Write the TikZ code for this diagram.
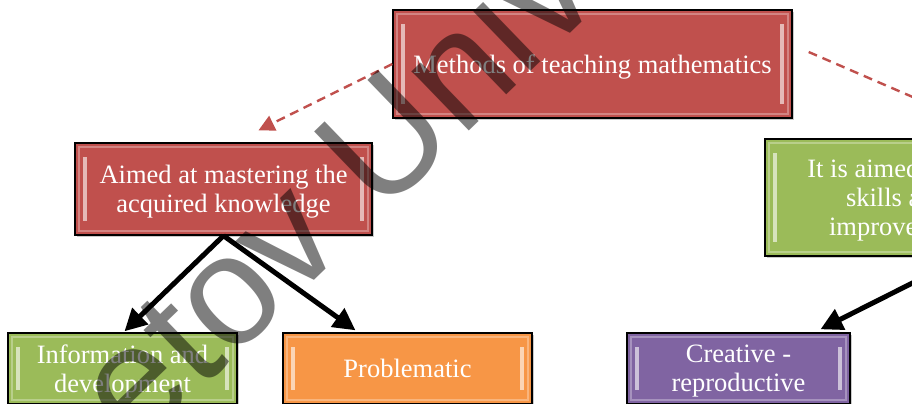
\documentclass[tikz,border=0pt]{standalone}
\usepackage{fontspec}
\setmainfont{Liberation Serif}
\newfontfamily\wmfont{Liberation Sans}
\usetikzlibrary{arrows.meta,shadows,calc}
\definecolor{boxred}{HTML}{C0504D}
\definecolor{boxgreen}{HTML}{9BBB59}
\definecolor{boxorange}{HTML}{F79646}
\definecolor{boxpurple}{HTML}{8064A2}
\tikzset{
        box/.style={rectangle, draw=black, line width=0.7pt, text=white, align=center, inner sep=0pt,
          font=\fontsize{13.25}{14.5}\selectfont, text depth=0pt,
          drop shadow={shadow xshift=1.2pt, shadow yshift=-1.2pt, opacity=0.35, fill=black!60},
          path picture={
            \draw[white, opacity=0.6, line width=1.6pt]
              ([shift={(5pt,-7pt)}]path picture bounding box.north west) -- ([shift={(5pt,7pt)}]path picture bounding box.south west)
              ([shift={(-5pt,-7pt)}]path picture bounding box.north east) -- ([shift={(-5pt,7pt)}]path picture bounding box.south east);
            \draw[white, opacity=0.3, line width=0.8pt]
              ([shift={(2pt,-2pt)}]path picture bounding box.north west) rectangle ([shift={(-2pt,2pt)}]path picture bounding box.south east);
          }},
        redbox/.style={box, fill=boxred},
        greenbox/.style={box, fill=boxgreen},
        orangebox/.style={box, fill=boxorange},
        purplebox/.style={box, fill=boxpurple},
        solidarrow/.style={-{Triangle[length=11pt,width=11pt]}, line width=2.5pt, draw=black},
        dasharrow/.style={-{Triangle[length=8pt,width=8pt]}, dash pattern=on 4.5pt off 3pt, line width=1.2pt, draw=boxred},
        watermark/.style={text=black, opacity=0.5, inner sep=0pt, font=\wmfont\fontsize{78}{78}\selectfont, rotate=44}
          }
\begin{document}
\begin{tikzpicture}[x=0.5pt, y=-0.5pt]
        \useasboundingbox (0,0) rectangle (912,403);
        \clip (0,0) rectangle (912,403);
        % boxes
        \node[redbox, minimum width=199.5pt, minimum height=54pt] (methods) at (592.5,64) {Methods of teaching mathematics};
        \node[redbox, minimum width=148.5pt, minimum height=46pt] (mastering) at (223.5,189) {Aimed at mastering the\\acquired knowledge};
        \node[greenbox, minimum width=176.7pt, minimum height=58.5pt] (skills) at (941.7,197.5) {It is aimed at forming the\\skills and abilities\\improvement of their};
        \node[greenbox, minimum width=114.5pt, minimum height=35.5pt] (info) at (122.5,368.5) {Information and\\development};
        \node[orangebox, minimum width=124.5pt, minimum height=35.5pt] (problem) at (407.5,368.5) {Problematic};
        \node[purplebox, minimum width=111.5pt, minimum height=35.5pt] (creative) at (738.5,368.5) {Creative -\\reproductive};
        % connectors
        \draw[dasharrow] (methods.west) -- ($(mastering.north)+(35,-12)$);
        \draw[dasharrow] ($(methods.east)+(16,-12)$) -- ($(skills.north)+(48,-8)$);
        \draw[solidarrow] (mastering.south) -- ($(info.north)+(2,-1)$);
        \draw[solidarrow] (mastering.south) -- ($(problem.north)+(-52,-2)$);
        \draw[solidarrow] ($(skills.south)+(23,0)$) -- ($(creative.north)+(82,-3)$);
        % watermark
        \node[watermark] (wm) at (332,186) {etov Univ};
\end{tikzpicture}
\end{document}
